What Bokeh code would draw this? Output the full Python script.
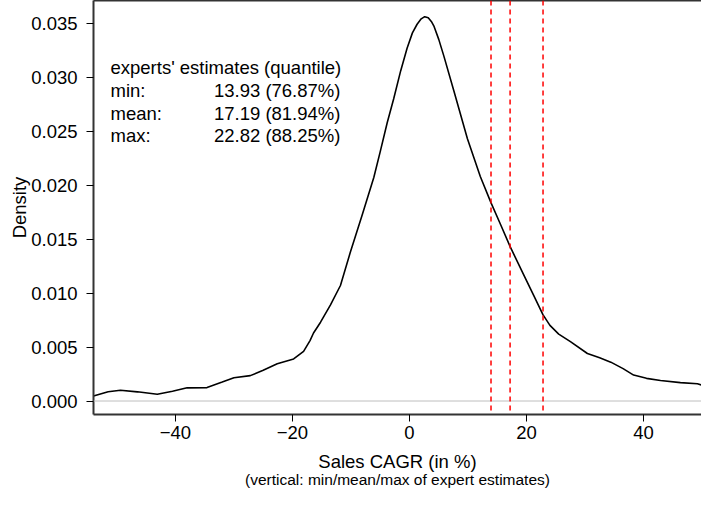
from bokeh.plotting import figure
from bokeh.models import Range1d, Span, LinearAxis, FixedTicker, ColumnDataSource
from bokeh.core.properties import value
from bokeh.embed import file_html
from bokeh.resources import INLINE

# ---- data ----
density_x = [-54.0, -51.5, -49.4, -46.5, -43.1, -40.5, -38.0, -34.6, -32.0, -30.0,
             -27.2, -25.0, -22.6, -19.8, -18.1, -17.0, -16.4, -15.2, -13.5, -11.8,
             -10.1, -8.1, -6.1, -5.0, -3.8, -2.7, -1.5, -0.4, 0.5, 1.3,
             2.0, 2.6, 3.2, 3.8, 4.2, 5.0, 5.9, 7.6, 9.9, 12.1, 13.9, 15.6,
             17.2, 19.5, 21.2, 22.8, 24.0, 25.5, 27.5, 30.4, 32.5, 34.4,
             36.5, 38.3, 40.5, 42.9, 46.3, 49.2, 51.0, 52.6]
density_y = [0.00046, 0.00085, 0.00100, 0.00085, 0.00062, 0.00090, 0.00122, 0.00124, 0.00175, 0.00215,
             0.00235, 0.00285, 0.00345, 0.00390, 0.00460, 0.00560, 0.00630, 0.00730, 0.00890, 0.01070,
             0.01380, 0.01720, 0.02070, 0.02310, 0.02580, 0.02800, 0.03060, 0.03270, 0.03410, 0.03490,
             0.03540, 0.03560, 0.03550, 0.03510, 0.03470, 0.03350, 0.03190, 0.02870, 0.02430, 0.02080,
             0.01840, 0.01630,
             0.01430, 0.01170, 0.00980, 0.00800, 0.00700, 0.00620, 0.00550, 0.00440, 0.00400, 0.00360,
             0.00300, 0.00240, 0.00210, 0.00190, 0.00170, 0.00160, 0.00130, 0.00090]

stat_names = ["min:", "mean:", "max:"]
stat_values = [13.93, 17.19, 22.82]
stat_quantiles = [76.87, 81.94, 88.25]

x_ticks = [-40, -20, 0, 20, 40]
y_ticks = [0.0, 0.005, 0.010, 0.015, 0.020, 0.025, 0.030, 0.035]

FONT = "Liberation Sans"

p = figure(width=701, height=490, output_backend="svg", toolbar_location=None,
           x_range=Range1d(-54.0, 49.9), y_range=Range1d(-0.00125, 0.0371),
           min_border_left=93, min_border_right=0, min_border_top=0, min_border_bottom=0,
           x_axis_label="Sales CAGR (in %)", y_axis_label="Density")
p.outline_line_color = None
p.xgrid.visible = False
p.ygrid.visible = False
p.background_fill_color = "white"
p.border_fill_color = "white"

# axes styling
for ax in (p.xaxis[0], p.yaxis[0]):
    ax.axis_line_color = "#333333"
    ax.axis_line_width = 2
    ax.major_tick_line_color = "black"
    ax.major_tick_line_width = 1
    ax.major_tick_out = 7
    ax.major_tick_in = 0
    ax.minor_tick_line_color = None
    ax.major_label_text_font = FONT
    ax.major_label_text_font_size = "18.5px"
    ax.major_label_text_color = "black"
    ax.axis_label_text_font = FONT
    ax.axis_label_text_font_size = "18.5px"
    ax.axis_label_text_font_style = "normal"
    ax.axis_label_text_color = "black"

p.xaxis[0].ticker = FixedTicker(ticks=x_ticks)
p.xaxis[0].major_label_overrides = {t: (str(t).replace("-", "\u2212")) for t in x_ticks}
p.xaxis[0].major_label_standoff = 4
p.xaxis[0].axis_label_standoff = 9

p.yaxis[0].ticker = FixedTicker(ticks=y_ticks)
p.yaxis[0].major_label_overrides = {t: f"{t:.3f}" for t in y_ticks}
p.yaxis[0].major_label_orientation = "horizontal"
p.yaxis[0].major_label_standoff = 9
p.yaxis[0].axis_label_standoff = -2

# subtitle as second below axis
sub = LinearAxis(axis_label="(vertical: min/mean/max of expert estimates)",
                 ticker=FixedTicker(ticks=[]), axis_line_color=None,
                 major_tick_out=0, major_tick_in=0, minor_tick_line_color=None,
                 major_label_text_font_size="0px", major_label_standoff=0,
                 axis_label_standoff=-4,
                 axis_label_text_font=FONT, axis_label_text_font_size="15.5px",
                 axis_label_text_font_style="normal", axis_label_text_color="black")
p.add_layout(sub, "below")

# top border as an axis line
top = LinearAxis(ticker=FixedTicker(ticks=[]), axis_line_color="#333333", axis_line_width=2,
                 major_tick_out=0, major_tick_in=0, minor_tick_line_color=None,
                 major_label_text_font_size="0px", major_label_standoff=0)
p.add_layout(top, "above")

# zero line
p.add_layout(Span(location=0, dimension="width", line_color="#bebebe", line_width=1))

# density curve
p.line(density_x, density_y, line_color="black", line_width=1.6)

# expert estimate lines
for v in stat_values:
    p.add_layout(Span(location=v, dimension="height", line_color="red",
                      line_width=1.5, line_dash="5 4"))

# annotation text
row_y = [0.02877, 0.02664, 0.02460]
p.text(x=[-51.1], y=[0.0309], text=["experts' estimates (quantile)"],
       text_font=value(FONT), text_font_size="18.5px", text_baseline="middle",
       text_align="left", text_color="black")
src = ColumnDataSource(dict(
    name=stat_names,
    val=[f"{v:.2f} ({q:.2f}%)" for v, q in zip(stat_values, stat_quantiles)],
    y=row_y,
    xl=[-51.1] * 3,
    xr=[-11.8] * 3,
))
p.text(x="xl", y="y", text="name", source=src, text_font=value(FONT),
       text_font_size="18.5px", text_baseline="middle", text_align="left", text_color="black")
p.text(x="xr", y="y", text="val", source=src, text_font=value(FONT),
       text_font_size="18.5px", text_baseline="middle", text_align="right", text_color="black")

open("out.html", "w").write(file_html(p, INLINE))
